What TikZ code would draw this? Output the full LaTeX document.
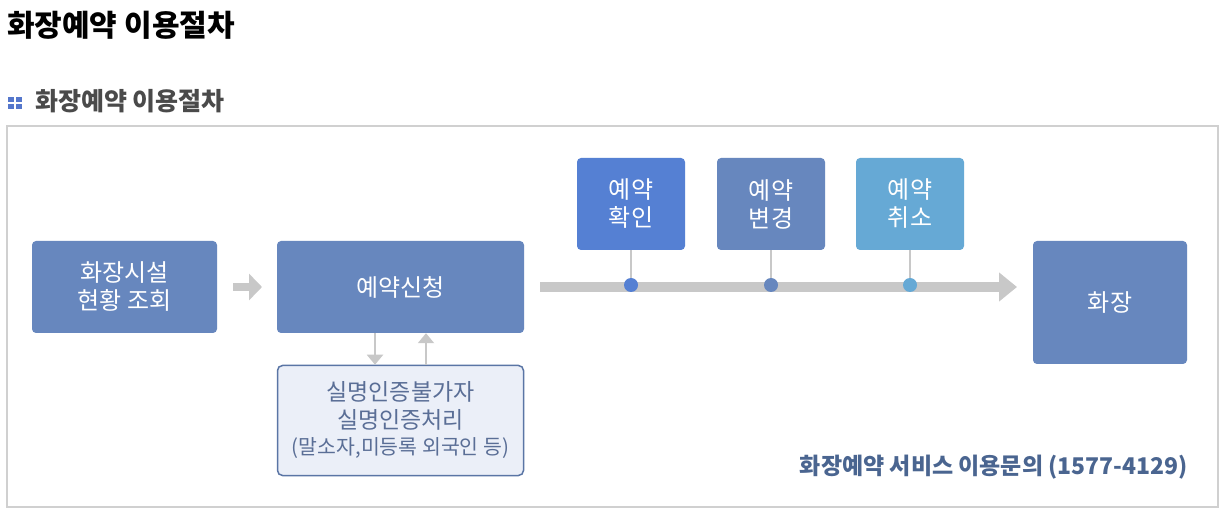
\documentclass[tikz,border=0pt]{standalone}
\usepackage{fontspec}
\setmainfont{Noto Sans CJK KR}
\usetikzlibrary{arrows.meta}
\definecolor{boxblue}{HTML}{6787BE}
\definecolor{confblue}{HTML}{5580D3}
\definecolor{cancblue}{HTML}{66A9D5}
\definecolor{arrgray}{HTML}{C8C8C8}
\definecolor{framegray}{HTML}{D0D0D0}
\definecolor{subfill}{HTML}{EBEFF8}
\definecolor{subline}{HTML}{5A75A5}
\definecolor{subtext}{HTML}{5A6E96}
\definecolor{foottext}{HTML}{4A6590}
\definecolor{icon}{HTML}{5577CC}
\definecolor{subtitle}{HTML}{4A4A4A}
\tikzset{
  procbox/.style={fill=#1, rounded corners=4pt, draw=none, text=white, align=center,
    font=\fontsize{24}{28}\selectfont, inner sep=0pt},
  bigarrow/.style={draw=arrgray, line width=8pt, -{Triangle[length=13pt,width=26pt]}},
  tlarrow/.style={draw=arrgray, line width=10pt, -{Triangle[length=18pt,width=28pt]}},
  thinarrow/.style={draw=arrgray, line width=2pt, -{Triangle[length=10pt,width=16pt]}},
  stem/.style={draw=arrgray, line width=2pt},
  dot/.style={circle, fill=#1, minimum size=14pt, inner sep=0pt},
  plain/.style={inner sep=0pt},
}
\begin{document}
\begin{tikzpicture}[x=1pt,y=-1pt]
\useasboundingbox (0,0) rectangle (1227,521);
\fill[white] (0,0) rectangle (1227,521);
% titles
\node[plain, anchor=west, font=\fontsize{30}{30}\selectfont\bfseries] (title) at (7,25) {화장예약 이용절차};
\fill[icon] (8,97) rectangle (14,102);
\fill[icon] (16,97) rectangle (22,102);
\fill[icon] (8,104) rectangle (14,109);
\fill[icon] (16,104) rectangle (22,109);
\node[plain, anchor=west, text=subtitle, font=\fontsize{25}{25}\selectfont\bfseries] (subtitle) at (35,101) {화장예약 이용절차};
% frame
\draw[framegray, line width=2pt] (7,126) rectangle (1218,507);
% boxes
\node[procbox=boxblue, minimum width=185pt, minimum height=92pt] (view) at (124.5,287) {화장시설\\현황 조회};
\node[procbox=boxblue, minimum width=247pt, minimum height=92pt] (apply) at (400.5,287) {예약신청};
\node[fill=subfill, draw=subline, line width=1.5pt, rounded corners=5pt, minimum width=246pt, minimum height=110pt, inner sep=0pt] (auth) at (400.5,420.5) {};
\node[plain, text=subtext, font=\fontsize{23}{23}\selectfont] (auth1) at (400.5,392) {실명인증불가자};
\node[plain, text=subtext, font=\fontsize{23}{23}\selectfont] (auth2) at (400.5,419.5) {실명인증처리};
\node[plain, text=subtext, font=\fontsize{20.5}{20.5}\selectfont] (auth3) at (400.5,448) {(말소자,미등록 외국인 등)};
\node[procbox=confblue, minimum width=108pt, minimum height=92pt] (conf) at (631,204) {예약\\확인};
\node[procbox=boxblue, minimum width=108pt, minimum height=92pt] (chg) at (771,204) {예약\\변경};
\node[procbox=cancblue, minimum width=108pt, minimum height=92pt] (canc) at (910,204) {예약\\취소};
\node[procbox=boxblue, minimum width=154pt, minimum height=123pt] (crem) at (1110,302.5) {화장};
% connectors
\coordinate (a1s) at (233,287);
\coordinate (a1e) at (262,287);
\draw[bigarrow] (a1s) -- (a1e);
\coordinate (tls) at (540,287);
\coordinate (tle) at (1017,287);
\draw[tlarrow] (tls) -- (tle);
\node[dot=confblue] (d1) at (631,285) {};
\node[dot=boxblue] (d2) at (771,285) {};
\node[dot=cancblue] (d3) at (910,285) {};
\draw[stem] (conf.south) -- (d1.north);
\draw[stem] (chg.south) -- (d2.north);
\draw[stem] (canc.south) -- (d3.north);
\draw[thinarrow] (apply.south -| 375,0) -- (auth.north -| 375,0);
\draw[thinarrow] (auth.north -| 426,0) -- (apply.south -| 426,0);
% footer
\node[plain, anchor=east, text=foottext, font=\fontsize{23}{23}\selectfont\bfseries] (foot) at (1188,467) {화장예약 서비스 이용문의 (1577-4129)};
\end{tikzpicture}
\end{document}
